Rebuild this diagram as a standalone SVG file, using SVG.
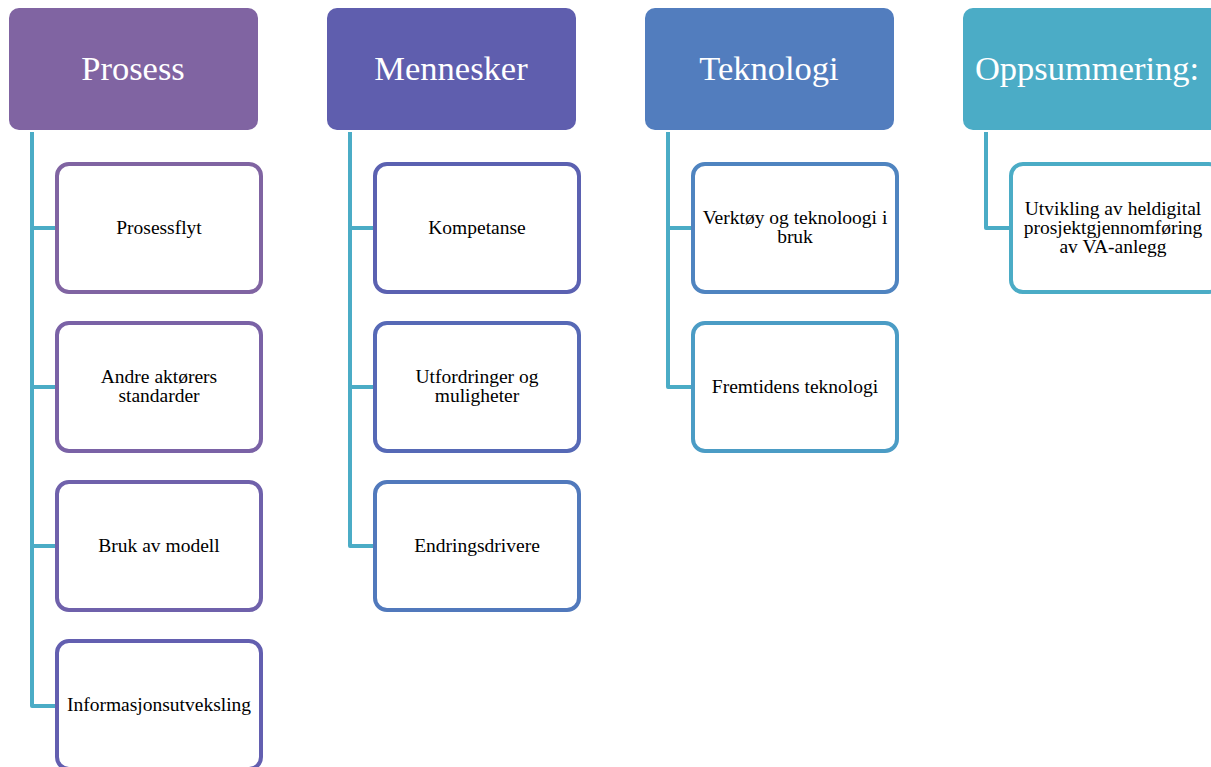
<svg xmlns="http://www.w3.org/2000/svg" width="1211" height="767" viewBox="0 0 1211 767">
  <style>
    .head { font-family: "Liberation Serif", "DejaVu Serif", serif; font-size: 34.5px; fill: #ffffff; text-anchor: middle; }
    .item { font-family: "Liberation Serif", "DejaVu Serif", serif; font-size: 19.5px; fill: #000000; text-anchor: middle; }
    .box { fill: #ffffff; stroke-width: 4; }
    .link { fill: none; stroke: #4BACC6; stroke-width: 4; stroke-linejoin: round; }
  </style>
  <rect width="1211" height="767" fill="#ffffff"/>

  <!-- connectors: vertical spines with branches to each child -->
  <g id="connectors">
    <path class="link" d="M32,132 V706 H56 M32,228 H56 M32,387 H56 M32,546 H56"/>
    <path class="link" d="M350,132 V546 H374 M350,228 H374 M350,387 H374"/>
    <path class="link" d="M668,132 V387 H692 M668,228 H692"/>
    <path class="link" d="M986,132 V228 H1010"/>
  </g>

  <!-- column: Prosess -->
  <g id="prosess">
    <rect x="9" y="8" width="249" height="122" rx="10" fill="#8064A2"/>
    <text class="head" x="133" y="80">Prosess</text>
  </g>
  <g id="prosessflyt">
    <rect class="box" x="57" y="164" width="204" height="128" rx="12" stroke="#8064A2"/>
    <text class="item" x="159" y="234">Prosessflyt</text>
  </g>
  <g id="andre-aktorers-standarder">
    <rect class="box" x="57" y="323" width="204" height="128" rx="12" stroke="#7A62A6"/>
    <text class="item" x="159" y="383">Andre aktørers</text>
    <text class="item" x="159" y="402">standarder</text>
  </g>
  <g id="bruk-av-modell">
    <rect class="box" x="57" y="482" width="204" height="128" rx="12" stroke="#6F61AB"/>
    <text class="item" x="159" y="552">Bruk av modell</text>
  </g>
  <g id="informasjonsutveksling">
    <rect class="box" x="57" y="641" width="204" height="128" rx="12" stroke="#635FB0"/>
    <text class="item" x="159" y="711">Informasjonsutveksling</text>
  </g>

  <!-- column: Mennesker -->
  <g id="mennesker">
    <rect x="327" y="8" width="249" height="122" rx="10" fill="#5F5EAE"/>
    <text class="head" x="451" y="80">Mennesker</text>
  </g>
  <g id="kompetanse">
    <rect class="box" x="375" y="164" width="204" height="128" rx="12" stroke="#5B61B1"/>
    <text class="item" x="477" y="234">Kompetanse</text>
  </g>
  <g id="utfordringer-og-muligheter">
    <rect class="box" x="375" y="323" width="204" height="128" rx="12" stroke="#5669B6"/>
    <text class="item" x="477" y="383">Utfordringer og</text>
    <text class="item" x="477" y="402">muligheter</text>
  </g>
  <g id="endringsdrivere">
    <rect class="box" x="375" y="482" width="204" height="128" rx="12" stroke="#5179BC"/>
    <text class="item" x="477" y="552">Endringsdrivere</text>
  </g>

  <!-- column: Teknologi -->
  <g id="teknologi">
    <rect x="645" y="8" width="249" height="122" rx="10" fill="#527DBE"/>
    <text class="head" x="769" y="80">Teknologi</text>
  </g>
  <g id="verktoy-og-teknologi">
    <rect class="box" x="693" y="164" width="204" height="128" rx="12" stroke="#4F84C0"/>
    <text class="item" x="795" y="224">Verktøy og teknoloogi i</text>
    <text class="item" x="795" y="243">bruk</text>
  </g>
  <g id="fremtidens-teknologi">
    <rect class="box" x="693" y="323" width="204" height="128" rx="12" stroke="#4B9CC5"/>
    <text class="item" x="795" y="393">Fremtidens teknologi</text>
  </g>

  <!-- column: Oppsummering -->
  <g id="oppsummering">
    <rect x="963" y="8" width="260" height="122" rx="10" fill="#4BACC6"/>
    <text class="head" x="1087" y="80">Oppsummering:</text>
  </g>
  <g id="utvikling-heldigital">
    <rect class="box" x="1011" y="164" width="210" height="128" rx="12" stroke="#4BACC6"/>
    <text class="item" x="1113" y="215">Utvikling av heldigital</text>
    <text class="item" x="1113" y="234">prosjektgjennomføring</text>
    <text class="item" x="1113" y="253">av VA-anlegg</text>
  </g>
</svg>
